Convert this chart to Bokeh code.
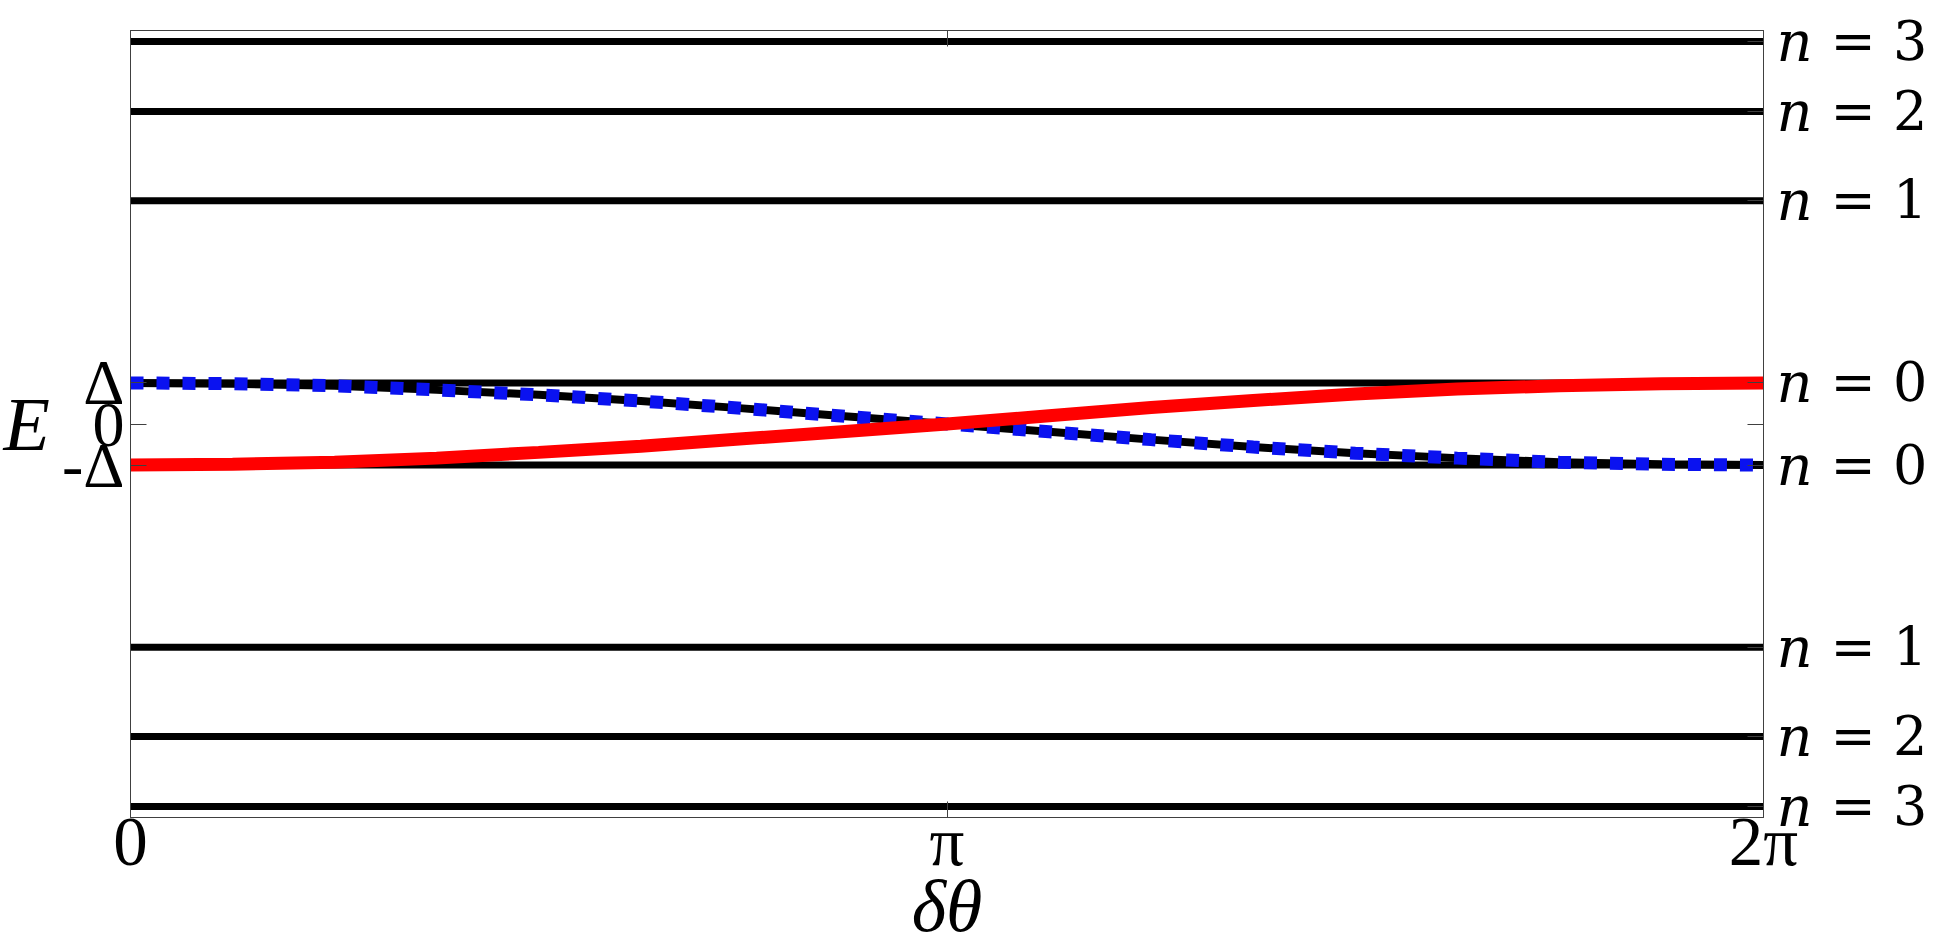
import numpy as np
from bokeh.plotting import figure
from bokeh.models import Range1d, FixedTicker, LinearAxis
from bokeh.embed import file_html
from bokeh.resources import INLINE

# ---------------- data ----------------
phase_ticks = [0.0, np.pi, 2 * np.pi]
phase_tick_labels = ["0", "π", "2π"]
phase = [k * np.pi / 8 for k in range(17)]          # sampled δθ positions
red_branch = [-1.00, -0.98, -0.93, -0.83, -0.69, -0.54, -0.36, -0.18, 0.00,
              0.20, 0.40, 0.57, 0.73, 0.85, 0.93, 0.98, 1.00]
blue_branch = [1.00, 0.98, 0.93, 0.83, 0.71, 0.56, 0.38, 0.19, 0.00,
               -0.19, -0.38, -0.56, -0.71, -0.83, -0.93, -0.98, -1.00]
level_values = [9.30, 7.60, 5.43, 1.00, -1.00, -5.43, -7.60, -9.30]
level_names = ["3", "2", "1", "0", "0", "1", "2", "3"]
energy_ticks = [-1.0, 0.0, 1.0]
energy_tick_labels = ["-Δ", "0", "Δ"]

# ---------------- figure ----------------
p = figure(width=1952, height=949,
           x_range=Range1d(0, 2 * np.pi), y_range=Range1d(-9.57, 9.57),
           output_backend="svg", toolbar_location=None,
           x_axis_location=None, y_axis_location=None,
           min_border_left=130, min_border_right=189,
           min_border_top=30, min_border_bottom=128)
p.grid.visible = False
p.outline_line_color = "#404040"
p.outline_line_width = 1

axis_color = "#404040"
common = dict(major_tick_in=16, major_tick_out=0, minor_tick_line_color=None,
              axis_line_color=axis_color, major_tick_line_color=axis_color)

# bottom axis (δθ)
x_bottom = LinearAxis(ticker=FixedTicker(ticks=phase_ticks),
                      major_label_overrides=dict(zip(phase_ticks, phase_tick_labels)),
                      major_label_text_font="Liberation Serif",
                      major_label_text_font_size="69px",
                      major_label_text_color="black",
                      major_label_standoff=-14,
                      axis_label="δθ",
                      axis_label_text_font="Liberation Serif",
                      axis_label_text_font_style="italic",
                      axis_label_text_font_size="74px",
                      axis_label_text_color="black",
                      axis_label_standoff=-18,
                      **common)
p.add_layout(x_bottom, "below")

# top axis: ticks only
x_top = LinearAxis(ticker=FixedTicker(ticks=phase_ticks),
                   major_label_overrides={t: "" for t in phase_ticks},
                   major_label_standoff=0, **common)
p.add_layout(x_top, "above")

# left axis (E)
y_left = LinearAxis(ticker=FixedTicker(ticks=energy_ticks),
                    major_label_overrides=dict(zip(energy_ticks, energy_tick_labels)),
                    major_label_text_font="Liberation Serif",
                    major_label_text_font_size="64px",
                    major_label_text_color="black",
                    major_label_standoff=6,
                    axis_label="E",
                    axis_label_orientation="horizontal",
                    axis_label_text_font="Liberation Serif",
                    axis_label_text_font_style="italic",
                    axis_label_text_font_size="76px",
                    axis_label_text_color="black",
                    axis_label_standoff=9,
                    **common)
p.add_layout(y_left, "left")

# right axis 1: frame ticks + italic "n"
right_ticks = level_values + [0.0]
n_over = {v: "n" for v in level_values}
n_over[0.0] = ""
y_right_n = LinearAxis(ticker=FixedTicker(ticks=right_ticks),
                       major_label_overrides=n_over,
                       major_label_text_font="DejaVu Serif",
                       major_label_text_font_style="italic",
                       major_label_text_font_size="56px",
                       major_label_text_color="black",
                       major_label_standoff=13,
                       **common)
p.add_layout(y_right_n, "right")

# right axis 2: "= k"
y_right_eq = LinearAxis(ticker=FixedTicker(ticks=level_values),
                        major_label_overrides={v: "= " + k for v, k in zip(level_values, level_names)},
                        major_label_text_font="DejaVu Serif",
                        major_label_text_font_size="54px",
                        major_label_text_color="black",
                        major_label_standoff=15,
                        axis_line_color=None, major_tick_line_color=None,
                        minor_tick_line_color=None, major_tick_in=0, major_tick_out=0)
p.add_layout(y_right_eq, "right")

# flat levels
for lv in level_values:
    p.line([phase[0], phase[-1]], [lv, lv], line_color="black",
           line_width=7, line_cap="round")

# black + blue dotted branch
p.line(phase, blue_branch, line_color="black", line_width=8)
p.line(phase, blue_branch, line_color="#0a12f0", line_width=13,
       line_dash="13 13", line_cap="butt")

# red branch
p.line(phase, red_branch, line_color="#ff0000", line_width=13)

open("out.html", "w").write(file_html(p, INLINE))
